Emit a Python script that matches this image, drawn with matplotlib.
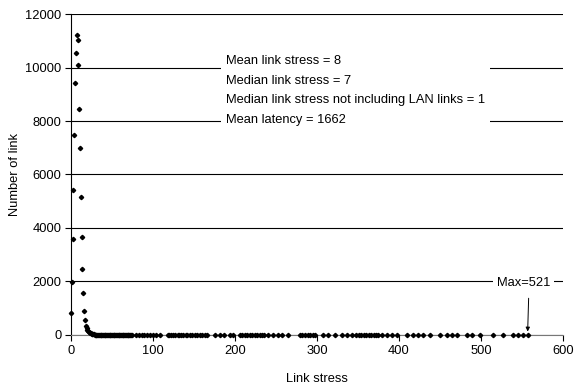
import matplotlib
matplotlib.use('Agg')
import matplotlib.pyplot as plt

plt.rcParams['font.family'] = ['Liberation Sans', 'DejaVu Sans']

# link stress -> number of links (peak region, one point per stress value)
stress_head = [0, 1, 2, 3, 4, 5, 6, 7, 8, 9, 10, 11, 12, 13, 14, 15, 16, 17]
count_head = [820, 1990, 3600, 5420, 7480, 9410, 10560, 11220, 11030, 10100,
              8450, 6980, 5150, 3680, 2460, 1580, 910, 560]

# fast decay after the peak
stress_decay = [18, 19, 20, 21, 22, 23, 24, 25, 26, 27, 28, 29, 30, 31, 32, 33,
                34, 35, 36, 37, 38, 39, 40, 41, 42, 43, 44, 45, 46, 47, 48, 49,
                50, 51, 52, 53, 54, 55, 56, 57, 58, 59, 60, 61, 62, 63, 64, 65,
                66, 67, 68, 69, 70, 71, 72, 73, 74]
count_decay = [330, 250, 190, 140, 105, 80, 60, 45, 35, 28, 22, 18, 15, 13, 11,
               10, 9, 8, 7, 7, 6, 6, 5, 5, 5, 4, 4, 4, 4, 3, 3, 3, 3, 3, 3, 2,
               2, 2, 2, 2, 2, 2, 2, 2, 2, 1, 1, 1, 1, 1, 1, 1, 1, 1, 1, 1, 1]

# sparse long tail
stress_tail = [79, 83, 86, 89, 93, 96, 100, 104, 109,
               118, 120, 122, 125, 127, 130, 132, 134, 137, 140, 142, 145, 148,
               151, 154, 157, 160, 163, 166,
               176, 182, 186, 194, 198,
               206, 209, 212, 215, 218, 221, 224, 227, 230, 233, 236, 240,
               246, 253, 257, 265,
               279, 282, 285, 289, 292, 295, 298,
               307, 313, 322, 330, 337, 343,
               348, 351, 354, 357, 360, 363, 366, 369, 372, 375, 379,
               385, 391, 398, 410, 417, 423, 429, 438,
               450, 458, 465, 471, 483, 489, 499,
               515, 527, 539, 545, 551, 557]
count_tail = [1] * len(stress_tail)

stats = ['Mean link stress = 8',
         'Median link stress = 7',
         'Median link stress not including LAN links = 1',
         'Mean latency = 1662']
max_label = 'Max=521'

fs = 9.3

fig = plt.figure(figsize=(5.75, 3.87), dpi=100)
ax = fig.add_axes([0.1235, 0.1344, 0.8555, 0.8294])

xs = stress_head + stress_decay + stress_tail
ys = count_head + count_decay + count_tail
ax.plot(xs, ys, linestyle='none', marker='D', markersize=2.2,
        color='black', zorder=3, clip_on=False)

ax.set_xlim(0, 600)
ax.set_ylim(0, 12000)
ax.set_xticks(range(0, 601, 100))
ax.set_yticks(range(0, 12001, 2000))
ax.yaxis.grid(True, color='black', linewidth=0.8)
ax.set_axisbelow(True)

for s in ['top', 'right']:
    ax.spines[s].set_visible(False)
ax.spines['left'].set_linewidth(0.8)
ax.spines['bottom'].set_color('#777777')
ax.spines['bottom'].set_linewidth(0.8)
ax.tick_params(direction='out', length=4, width=0.8, labelsize=fs,
               colors='black', pad=3)

ax.set_xlabel('Link stress', fontsize=fs, labelpad=12)
ax.set_ylabel('Number of link', fontsize=fs, labelpad=3)

ax.text(189, 10450, '\n'.join(stats), fontsize=fs, va='top', ha='left',
        linespacing=1.82, zorder=4,
        bbox=dict(facecolor='white', edgecolor='none', pad=3.5))

ax.annotate(max_label, xy=(557, 130), xytext=(552, 1960),
            fontsize=fs, ha='center', va='center', zorder=4,
            bbox=dict(facecolor='white', edgecolor='none', pad=3),
            arrowprops=dict(arrowstyle='-|>', color='black', lw=0.7,
                            mutation_scale=6, shrinkA=4, shrinkB=0,
                            relpos=(0.6, 0)))

fig.savefig('out.png', dpi=100)
